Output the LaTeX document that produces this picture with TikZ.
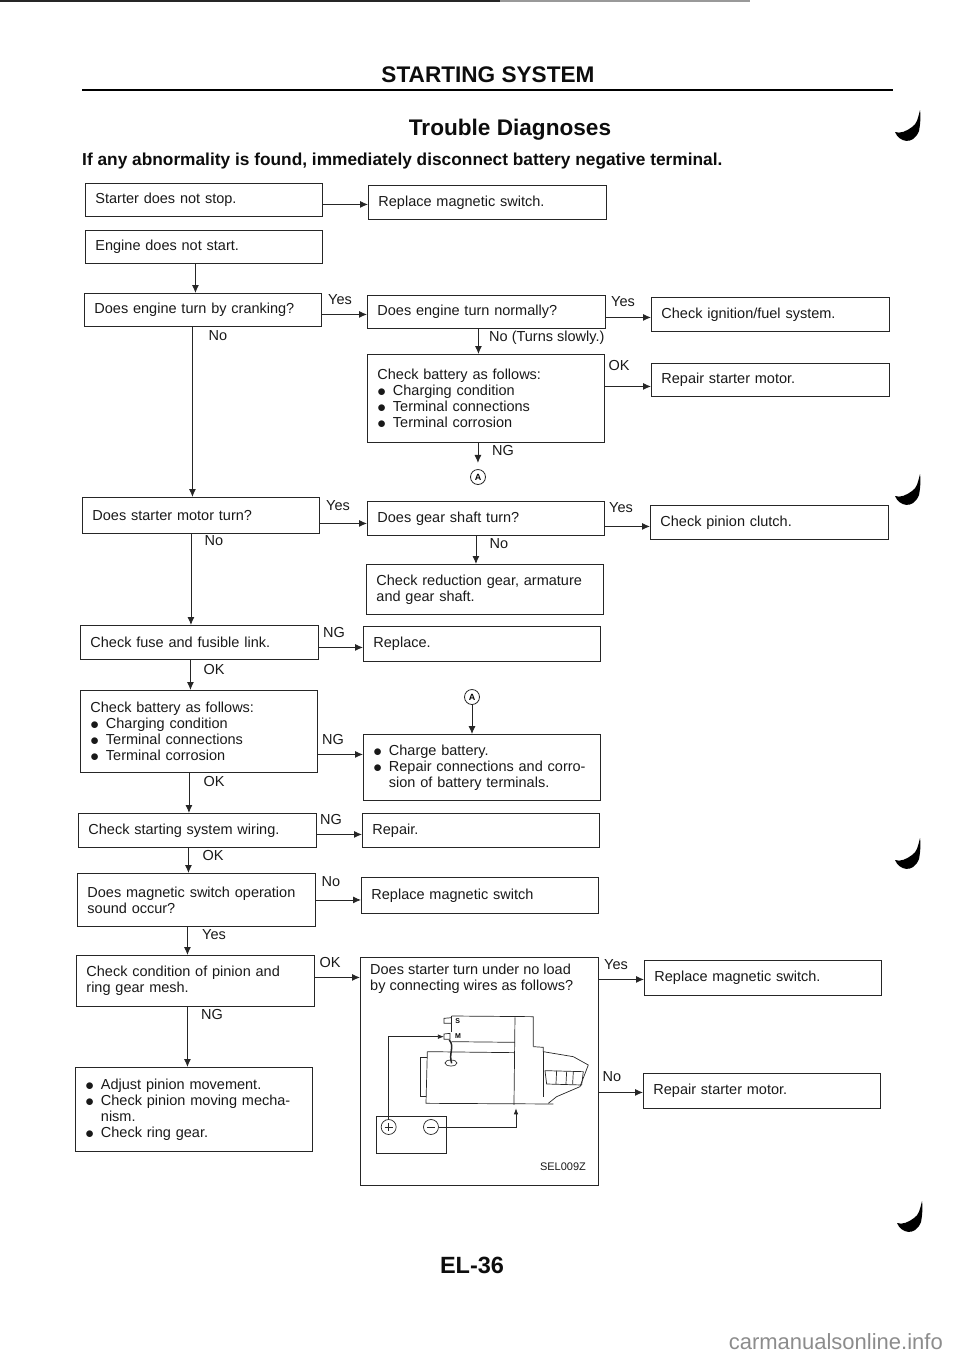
\documentclass[tikz,border=0pt]{standalone}
\usepackage{fontspec}
\setmainfont{Liberation Sans}
\usetikzlibrary{arrows.meta}
\newcommand{\dotitem}{\makebox[15.5pt][l]{\smash{\raisebox{-0.8pt}{\fontsize{17.28}{16}\selectfont$\bullet$}}}}
\begin{document}
\begin{tikzpicture}[
    x=1pt, y=-1pt,
    box/.style 2 args={rectangle, draw=black!85, line width=0.9pt, anchor=north west, inner xsep=10pt, inner ysep=0pt, align=left, text width=#1pt-20pt, minimum height=#2pt, font=\fontsize{14.5}{16}\selectfont, text=black!90},
    tag/.style={inner sep=0pt, align=left, font=\fontsize{14.5}{16}\selectfont, text=black!90},
    heading/.style={inner sep=0pt, font=\bfseries\fontsize{22.6}{26}\selectfont, text=black!95},
    arrow/.style={draw=black!85, line width=0.9pt, ->, > = {Latex[length=8pt,width=7pt]}},
    part/.style={draw=black!85, line width=0.7pt},
    circled/.style={circle, draw=black!85, line width=0.8pt, inner sep=0pt, minimum size=15pt, font=\bfseries\fontsize{9}{9}\selectfont},
    hook/.pic={\fill (0,0) .. controls (4,10) and (18,14) .. (24,-1) .. controls (25,-6) and (26,-15) .. (25,-22) .. controls (23,-14) and (22,-8) .. (17,-5) .. controls (12,-1) and (5,2) .. cycle;}
]
    \useasboundingbox (0,0) rectangle (960,1358);

    % page head
    \coordinate (topleft) at (0,1);
    \coordinate (topmid) at (500,1);
    \coordinate (topright) at (750,1);
    \draw [black!85, line width=2pt] (topleft) -- (topmid);
    \draw [black!40, line width=1.5pt] (topmid) -- (topright);
    \node [heading] (title) at (488,75) {STARTING SYSTEM};
    \coordinate (ruleleft) at (82,90);
    \coordinate (ruleright) at (893,90);
    \draw [black, line width=2.8pt] (ruleleft) -- (ruleright);
    \node [heading] (subtitle) at (510,130) {Trouble Diagnoses};
    \node [heading, anchor=west, font=\bfseries\fontsize{17.3}{20}\selectfont] (warning) at (82,161) {If any abnormality is found, immediately disconnect battery negative terminal.};

    % left column
    \node [box={237}{33}] (starter) at (85,183) {Starter does not stop.};
    \node [box={237}{33}] (engine) at (85,230) {Engine does not start.};
    \node [box={237}{33}] (crank) at (84,293) {Does engine turn by cranking?};
    \node [box={237}{36}] (motor) at (82,497) {Does starter motor turn?};
    \node [box={238}{34}] (fuse) at (80,625) {Check fuse and fusible link.};
    \node [box={237}{82}] (batterytwo) at (80,690) {Check battery as follows:\\\dotitem Charging condition\\\dotitem Terminal connections\\\dotitem Terminal corrosion};
    \node [box={238}{34}] (wiring) at (78,813) {Check starting system wiring.};
    \node [box={238}{53}] (sound) at (77,873) {Does magnetic switch operation\\sound occur?};
    \node [box={238}{51}] (mesh) at (76,955) {Check condition of pinion and\\ring gear mesh.};
    \node [box={237}{84}] (adjust) at (75,1067) {\dotitem Adjust pinion movement.\\\dotitem Check pinion moving mecha-\\\hspace*{15.5pt}nism.\\\dotitem Check ring gear.};

    % middle column
    \node [box={238}{34}] (switchone) at (368,185) {Replace magnetic switch.};
    \node [box={238}{33}] (normal) at (367,295) {Does engine turn normally?};
    \node [box={237}{88}] (batteryone) at (367,354) {Check battery as follows:\\\dotitem Charging condition\\\dotitem Terminal connections\\\dotitem Terminal corrosion};
    \node [box={237}{34}] (shaft) at (367,501) {Does gear shaft turn?};
    \node [box={237}{50}] (reduction) at (366,564) {Check reduction gear, armature\\and gear shaft.};
    \node [box={237}{35}] (replace) at (363,626) {Replace.};
    \node [box={237}{66}] (charge) at (363,734) {\dotitem Charge battery.\\\dotitem Repair connections and corro-\\\hspace*{15.5pt}sion of battery terminals.};
    \node [box={237}{34}] (repair) at (362,813) {Repair.};
    \node [box={237}{36}] (switchtwo) at (361,877) {Replace magnetic switch};
    \node [box={238}{228}] (noload) at (360,957) {};
    \node [tag, anchor=north west] (noloadtext) at (370,964) {Does starter turn under no load\\by connecting wires as follows?};
    \node [tag, font=\fontsize{11}{12}\selectfont] (figcode) at (563,1167) {SEL009Z};

    % right column
    \node [box={238}{34}] (ignition) at (651,297) {Check ignition/fuel system.};
    \node [box={238}{33}] (starterone) at (651,363) {Repair starter motor.};
    \node [box={238}{34}] (clutch) at (650,505) {Check pinion clutch.};
    \node [box={237}{35}] (switchthree) at (644,960) {Replace magnetic switch.};
    \node [box={237}{35}] (startertwo) at (643,1073) {Repair starter motor.};

    % connection points
    \node [circled] (pointa) at (478,477) {A};
    \node [circled] (pointb) at (472,697) {A};

    % arrows down
    \draw [arrow] ([xshift=-8.5pt]engine.south) -- ([xshift=-8.5pt]engine.south |- crank.north);
    \draw [arrow] ([xshift=-10.5pt]crank.south) -- ([xshift=-10.5pt]crank.south |- motor.north);
    \draw [arrow] ([xshift=-10pt]motor.south) -- ([xshift=-10pt]motor.south |- fuse.north);
    \draw [arrow] ([xshift=-9pt]fuse.south) -- ([xshift=-9pt]fuse.south |- batterytwo.north);
    \draw [arrow] ([xshift=-10pt]batterytwo.south) -- ([xshift=-10pt]batterytwo.south |- wiring.north);
    \draw [arrow] ([xshift=-9pt]wiring.south) -- ([xshift=-9pt]wiring.south |- sound.north);
    \draw [arrow] ([xshift=-9pt]sound.south) -- ([xshift=-9pt]sound.south |- mesh.north);
    \draw [arrow] ([xshift=-8pt]mesh.south) -- ([xshift=-8pt]mesh.south |- adjust.north);
    \draw [arrow] ([xshift=-8pt]normal.south) -- ([xshift=-8pt]normal.south |- batteryone.north);
    \draw [arrow] ([xshift=-8pt]batteryone.south) -- ([xshift=-8pt,yshift=-20pt]batteryone.south);
    \draw [arrow] ([xshift=-10pt]shaft.south) -- ([xshift=-10pt]shaft.south |- reduction.north);
    \draw [arrow] (pointb) -- (pointb |- charge.north);

    % arrows across
    \draw [arrow] ([yshift=-4.5pt]starter.east) -- ([yshift=-4.5pt]starter.east -| switchone.west);
    \draw [arrow] ([yshift=-4.5pt]crank.east) -- ([yshift=-4.5pt]crank.east -| normal.west);
    \draw [arrow] ([yshift=-5.5pt]normal.east) -- ([yshift=-5.5pt]normal.east -| ignition.west);
    \draw [arrow] ([yshift=12pt]batteryone.east) -- ([yshift=12pt]batteryone.east -| starterone.west);
    \draw [arrow] ([yshift=-8pt]motor.east) -- ([yshift=-8pt]motor.east -| shaft.west);
    \draw [arrow] ([yshift=-8pt]shaft.east) -- ([yshift=-8pt]shaft.east -| clutch.west);
    \draw [arrow] ([yshift=-5pt]fuse.east) -- ([yshift=-5pt]fuse.east -| replace.west);
    \draw [arrow] ([yshift=-23pt]batterytwo.east) -- ([yshift=-23pt]batterytwo.east -| charge.west);
    \draw [arrow] ([yshift=-4pt]wiring.east) -- ([yshift=-4pt]wiring.east -| repair.west);
    \draw [arrow] (sound.east) -- (sound.east -| switchtwo.west);
    \draw [arrow] ([yshift=3.5pt]mesh.east) -- ([yshift=3.5pt]mesh.east -| noload.west);
    \draw [arrow] ([yshift=92pt]noload.east) -- ([yshift=92pt]noload.east -| switchthree.west);
    \draw [arrow] ([yshift=-21pt]noload.east) -- ([yshift=-21pt]noload.east -| startertwo.west);

    % labels on the arrows
    \node [tag] (yescrank) at (340,300) {Yes};
    \node [tag] (nocrank) at (218,336) {No};
    \node [tag] (yesnormal) at (623,302) {Yes};
    \node [tag, anchor=west] (slowly) at (489,338) {No (Turns slowly.)};
    \node [tag] (okone) at (619,366) {OK};
    \node [tag] (ngone) at (503,451) {NG};
    \node [tag] (yesmotor) at (338,506) {Yes};
    \node [tag] (nomotor) at (214,541) {No};
    \node [tag] (yesshaft) at (621,508) {Yes};
    \node [tag] (noshaft) at (499,544) {No};
    \node [tag] (ngfuse) at (334,632) {NG};
    \node [tag] (okfuse) at (214,669) {OK};
    \node [tag] (ngbattery) at (333,739) {NG};
    \node [tag] (okbattery) at (214,781) {OK};
    \node [tag] (ngwiring) at (331,819) {NG};
    \node [tag] (okwiring) at (213,855) {OK};
    \node [tag] (nosound) at (331,882) {No};
    \node [tag] (yessound) at (214,935) {Yes};
    \node [tag] (okmesh) at (330,962) {OK};
    \node [tag] (ngmesh) at (212,1014) {NG};
    \node [tag] (yesload) at (616,965) {Yes};
    \node [tag] (noloadno) at (612,1077) {No};

    % starter motor sketch
    \begin{scope}[shift={(340,940)}, x=0.3333pt, y=-0.3333pt]
        \draw [part] (335,228) -- (580,230) -- (580,320);
        \draw [part] (335,228) -- (335,275);
        \draw [part] (525,232) -- (522,495);
        \draw [part] (335,305) -- (525,307);
        \draw [part] (262,335) -- (525,338);
        \draw [part] (262,335) -- (258,490) -- (640,492);
        \draw [part] (262,352) -- (240,352) -- (240,468) -- (258,468);
        \draw [part] (580,320) -- (610,322) -- (610,335) -- (700,350) -- (745,375) -- (720,440) -- (650,470) -- (625,490);
        \draw [part] (610,335) -- (610,470);
        \draw [part] (615,392) -- (730,395) -- (725,435) -- (620,432) -- cycle;
        \draw [part] (650,392) -- (648,432);
        \draw [part] (680,395) -- (678,432);
        \draw [part] (700,395) -- (698,432);
        \draw [part] (335,233) -- (312,235) -- (312,250) -- (335,250);
        \node [inner sep=0pt, font=\bfseries\fontsize{7}{8}\selectfont] (termS) at (353,243) {S};
        \draw [part] (330,280) -- (312,282) -- (312,298) -- (330,298) -- cycle;
        \node [inner sep=0pt, font=\bfseries\fontsize{7}{8}\selectfont] (termM) at (354,288) {M};
        \draw [part, line width=1.5pt] (328,300) .. controls (345,320) and (325,340) .. (335,370);
        \draw [part] (333,369) ellipse (18 and 9);
        % battery
        \node [rectangle, draw=black!85, line width=0.7pt, minimum width=69.5pt, minimum height=37pt, anchor=north west, inner sep=0pt] (battery) at (108,528) {};
        \node [circle, draw=black!85, line width=0.7pt, minimum size=15pt, inner sep=0pt] (plus) at (146,561) {};
        \node [circle, draw=black!85, line width=0.7pt, minimum size=15pt, inner sep=0pt] (minus) at (273,561) {};
        \draw [part] (134,561) -- (158,561) (146,549) -- (146,573);
        \draw [part] (261,561) -- (285,561);
        \coordinate (body) at (528,505);
        \coordinate (termin) at (312,290);
        \draw [part, -{Latex[length=6pt,width=4.5pt]}] (plus) |- (termin);
        \draw [part, -{Latex[length=6pt,width=4.5pt]}] (minus) -| (body);
    \end{scope}

    % page foot
    \node [heading, font=\bfseries\fontsize{23.5}{26}\selectfont] (pageno) at (472,1265) {EL-36};
    \node [inner sep=0pt, font=\fontsize{22}{24}\selectfont, text=black!45, anchor=east] (site) at (943,1342) {carmanualsonline.info};

    % margin marks
    \pic at (895,132) {hook};
    \pic at (895,496) {hook};
    \pic at (895,860) {hook};
    \pic at (897,1223) {hook};
\end{tikzpicture}
\end{document}
